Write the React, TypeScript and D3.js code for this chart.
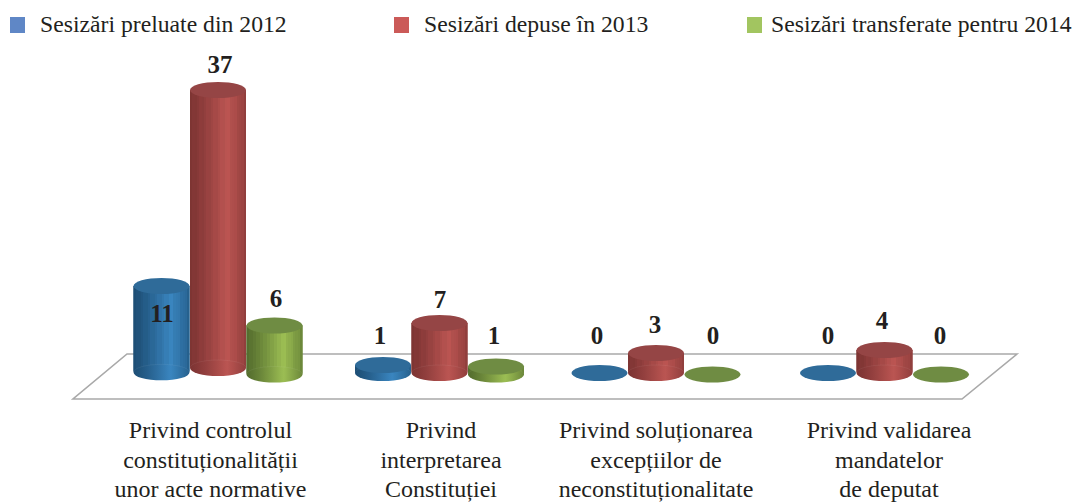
import React from "react";
import * as d3 from "d3";

const seriesNames = ["Sesizări preluate din 2012", "Sesizări depuse în 2013", "Sesizări transferate pentru 2014"];
const categories = ["controlul", "interpretarea", "exceptii", "validarea"];
const categoryLines = [
  ["Privind controlul", "constituționalității", "unor acte normative"],
  ["Privind", "interpretarea", "Constituției"],
  ["Privind soluționarea", "excepțiilor de", "neconstituționalitate"],
  ["Privind validarea", "mandatelor", "de deputat"],
];
const preluate = [11, 1, 0, 0];
const depuse = [37, 7, 3, 4];
const transferate = [6, 1, 0, 0];
const seriesValues = [preluate, depuse, transferate];

// layout constants
const groupCenters = [218, 439.5, 656, 884.5];
const labelCenters = [210.5, 441, 656, 889];
const seriesOffset = [-56.5, 0, 56.5];
const seriesDy = [0, 0, 1.5];
const dataLabelShift = [
  [0.5, 2, 1.5],
  [-3, 0.5, -2],
  [-2.5, -1, 0.5],
  [0, -2.5, -1],
];
const legendSquareX = [10, 394, 747];
const legendTextX = [40, 424, 771];
const colors = ["#5f87c6", "#cb5a58", "#a2c560"];
const topColors = ["#2f6b99", "#954545", "#6f8c43"];
const darkColors = ["#1d4e75", "#7d3433", "#546d2e"];
const lightColors = ["#3a86c0", "#bb5552", "#9cbe53"];
const rx = 28;
const ry = 8;

// the picture's perspective makes the value scale uneven
const yTop = d3.scaleLinear().domain([0, 1, 3, 4, 6, 7, 11, 37]).range([373, 365, 353, 350, 324, 323, 286, 90]);
const yBase = d3.scaleLinear().domain([7, 37]).range([373, 368]).clamp(true);
const xGroup = d3.scaleOrdinal<string, number>().domain(categories).range(groupCenters);

const serif = "'Liberation Serif', serif";
const stripeOffsets = d3.range(0, 1.0001, 1 / 24);
const bump = (t: number) => (t < 0.66 ? Math.pow(t / 0.66, 1.2) : 0.3 + 0.7 * Math.pow((1 - t) / 0.34, 0.9));

export default function App() {
  return (
    <svg width={1078} height={504} style={{ position: "absolute", left: 0, top: 0, background: "#fff" }}>
      <defs>
        {seriesNames.map((_, s) => {
          const mix = d3.interpolateRgb(darkColors[s], lightColors[s]);
          return (
            <React.Fragment key={s}>
              <linearGradient id={`smooth${s}`}>
                {stripeOffsets.map((o) => (
                  <stop key={o} offset={o} stopColor={mix(bump(o))} />
                ))}
              </linearGradient>
              <linearGradient id={`facet${s}`}>
                {stripeOffsets.slice(0, -1).flatMap((o, i) => {
                  const c = d3.color(mix(bump(o + 1 / 48)))!.brighter(i % 3 === 1 ? 0.05 : i % 3 === 2 ? -0.04 : 0).formatRgb();
                  return [
                    <stop key={`a${i}`} offset={o} stopColor={c} />,
                    <stop key={`b${i}`} offset={stripeOffsets[i + 1]} stopColor={c} />,
                  ];
                })}
              </linearGradient>
            </React.Fragment>
          );
        })}
      </defs>

      {seriesNames.map((name, s) => (
        <g key={name}>
          <rect x={legendSquareX[s]} y={17} width={15} height={16} fill={colors[s]} />
          <text x={legendTextX[s]} y={32} fontFamily={serif} fontSize={23.7} fill="#231f20">
            {name}
          </text>
        </g>
      ))}

      <polygon points="127,354 1017,354 962,399 73,399" fill="#fff" stroke="#a9a9a9" strokeWidth={1.6} />

      {categories.map((cat, c) =>
        seriesValues.map((vals, s) => {
          const v = vals[c];
          const cx = xGroup(cat)! + seriesOffset[s];
          const dy = seriesDy[s];
          const yb = yBase(v) + dy;
          const yt = yTop(v) + dy;
          const x0 = cx - rx;
          const x1 = cx + rx;
          return (
            <g key={`${c}-${s}`}>
              {v > 0 && (
                <>
                  <path
                    d={`M${x0},${yt}L${x1},${yt}L${x1},${yb}A${rx},${ry} 0 0 1 ${x0},${yb}Z`}
                    fill={`url(#smooth${s})`}
                  />
                  <path
                    d={`M${x0},${yt}L${x1},${yt}L${x1},${yb}A${rx},${ry} 0 0 0 ${x0},${yb}Z`}
                    fill={`url(#facet${s})`}
                  />
                  <path
                    d={`M${x0},${yb}A${rx},${ry} 0 0 1 ${x1},${yb}`}
                    fill="none"
                    stroke="#fff"
                    strokeOpacity={0.07}
                    strokeWidth={0.8}
                  />
                </>
              )}
              <ellipse cx={cx} cy={yt} rx={rx} ry={ry} fill={topColors[s]} />
            </g>
          );
        })
      )}

      {categories.map((cat, c) =>
        seriesValues.map((vals, s) => {
          const v = vals[c];
          const cx = xGroup(cat)! + seriesOffset[s] + dataLabelShift[c][s];
          const inside = v === 11;
          const top = yTop(v);
          const gap = v === 0 ? 29 : v === 1 ? 21 : v === 37 ? 17 : v === 7 ? 15 : v === 6 ? 17 : v === 3 ? 20 : 21;
          return (
            <text
              key={`${c}-${s}`}
              x={cx}
              y={inside ? 322 : top - gap}
              textAnchor="middle"
              fontFamily={serif}
              fontWeight="bold"
              fontSize={25}
              fill="#231f20"
            >
              {v}
            </text>
          );
        })
      )}

      {categoryLines.map((lines, c) => (
        <text key={c} textAnchor="middle" fontFamily={serif} fontSize={24} fill="#231f20">
          {lines.map((l, i) => (
            <tspan key={i} x={labelCenters[c]} y={438 + i * 29.5}>
              {l}
            </tspan>
          ))}
        </text>
      ))}
    </svg>
  );
}
